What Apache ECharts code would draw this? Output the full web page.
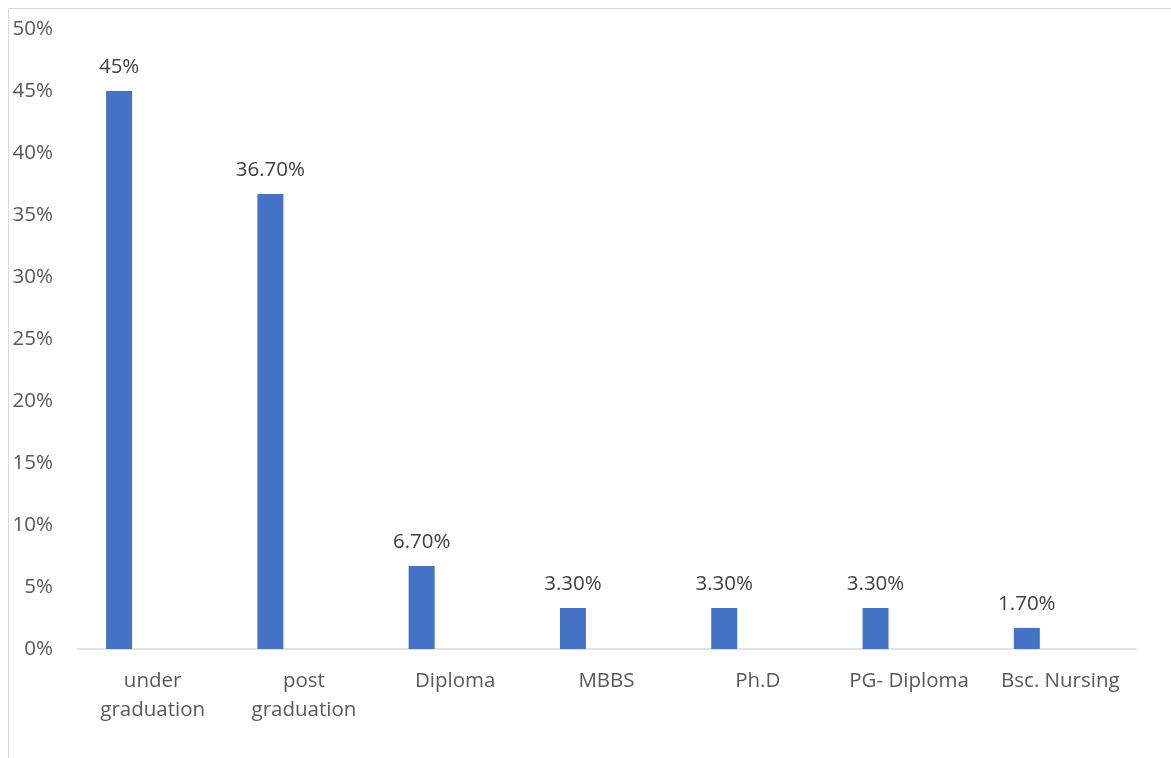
<!DOCTYPE html>
<html>
<head>
<meta charset="utf-8">
<script src="https://cdn.jsdelivr.net/npm/echarts@6/dist/echarts.min.js"></script>
<style>
  html, body { margin: 0; padding: 0; background: #fff; }
  #chart { width: 1171px; height: 758px; }
</style>
</head>
<body>
<div id="chart"></div>
<script>
// Education level of respondents (%)
const categories = ['under graduation', 'post graduation', 'Diploma', 'MBBS', 'Ph.D', 'PG- Diploma', 'Bsc. Nursing'];
const shares = [45, 36.7, 6.7, 3.3, 3.3, 3.3, 1.7];
const emptySeries = [null, null, null, null, null, null, null];

const FONT = '"Open Sans", "Noto Sans", sans-serif';
const FS = 20.5;

function pctLabel(v) {
  return Number.isInteger(v) ? v + '%' : v.toFixed(2) + '%';
}

const chart = echarts.init(document.getElementById('chart'), null, { renderer: 'canvas' });
chart.setOption({
  animation: false,
  backgroundColor: '#ffffff',
  graphic: [{
    type: 'rect',
    shape: { x: 8.5, y: 8.5, width: 1200, height: 800 },
    style: { fill: 'none', stroke: '#d9d9d9', lineWidth: 1 },
    silent: true
  }],
  grid: { left: 77, right: 35, top: 29, bottom: 109, containLabel: false },
  xAxis: {
    type: 'category',
    data: categories,
    axisLine: { lineStyle: { color: '#d9d9d9', width: 1.5 } },
    axisTick: { show: false },
    axisLabel: {
      color: '#595959',
      fontFamily: FONT,
      fontSize: FS,
      lineHeight: 29,
      margin: 18,
      interval: 0,
      formatter: s => s.replace(' graduation', '\ngraduation')
    }
  },
  yAxis: {
    type: 'value',
    min: 0,
    max: 50,
    interval: 5,
    splitLine: { show: false },
    axisLine: { show: false },
    axisTick: { show: false },
    axisLabel: {
      color: '#595959',
      fontFamily: FONT,
      fontSize: FS,
      margin: 24,
      formatter: '{value}%'
    }
  },
  series: [
    {
      type: 'bar',
      data: shares,
      barWidth: 26,
      barGap: '158%',
      itemStyle: { color: '#4472c4' },
      label: {
        show: true,
        position: 'top',
        distance: 13,
        color: '#404040',
        fontFamily: FONT,
        fontSize: FS,
        formatter: p => pctLabel(p.value)
      }
    },
    {
      type: 'bar',
      data: emptySeries,
      barWidth: 26
    }
  ]
});
</script>
</body>
</html>
